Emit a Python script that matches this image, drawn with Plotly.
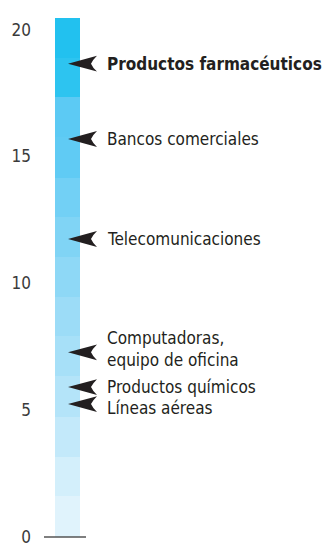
import plotly.graph_objects as go

# Stacked bands of the column (bottom to top) and their fill colours
band_heights = [1.60, 1.57, 1.57, 1.60, 1.57, 1.56, 1.57, 1.56, 1.57, 1.60, 1.57, 1.56, 1.57]
band_colors = ["#e0f3fc", "#d3effb", "#c3e9fa", "#b4e4f9", "#a7e0f8", "#9cdcf7",
               "#8ed8f6", "#80d4f5", "#72d0f5", "#60cbf4", "#5ccaf4", "#2dc4f0", "#22c1ef"]

# Marked industries and their positions on the scale
industries = ["Productos farmacéuticos", "Bancos comerciales", "Telecomunicaciones",
              "Computadoras,<br>equipo de oficina", "Productos químicos", "Líneas aéreas"]
industry_values = [18.66, 15.69, 11.75, 7.28, 5.91, 5.24]
label_bold = [True, False, False, False, False, False]
label_shift = [0, 0, 0, 3, 0, -4]

y_ticks = [0, 5, 10, 15, 20]

FONT = "DejaVu Sans Condensed, Liberation Sans Narrow, Liberation Sans, sans-serif"
BAR_X = 67.5

fig = go.Figure()
for h, c in zip(band_heights, band_colors):
    fig.add_trace(go.Bar(x=[BAR_X], y=[h], width=25, marker=dict(color=c, line=dict(width=0)),
                         showlegend=False, hoverinfo="skip"))

# Arrowheads pointing into the column, built from each value
px_per_unit = 25.55
half = 8 / px_per_unit
shapes = []
for v in industry_values:
    tip = 68
    back = 97
    notch = 91
    path = (f"M {tip},{v} L {back},{v + half} Q {notch + 1.5},{v + half*0.45} {notch},{v} "
            f"Q {notch + 1.5},{v - half*0.45} {back},{v - half} Z")
    shapes.append(dict(type="path", path=path, xref="x", yref="y",
                       fillcolor="#231f20", line=dict(width=0), layer="above"))

# Baseline at zero
shapes.append(dict(type="line", xref="x", yref="y", x0=44, x1=86, y0=0, y1=0,
                   line=dict(color="#555555", width=1.5), layer="above"))

annotations = []
for name, v, b, s in zip(industries, industry_values, label_bold, label_shift):
    annotations.append(dict(x=105, y=v, xref="x", yref="y", xanchor="left", yanchor="middle",
                            text=f"<b>{name}</b>" if b else name, showarrow=False,
                            yshift=s, align="left",
                            font=dict(family=FONT, size=17, color="#231f20")))

fig.update_layout(
    width=330, height=547,
    margin=dict(l=40, r=0, t=0, b=0),
    paper_bgcolor="white", plot_bgcolor="white",
    barmode="stack", bargap=0,
    shapes=shapes, annotations=annotations,
    xaxis=dict(range=[40, 330], visible=False, fixedrange=True),
    yaxis=dict(range=[-0.235, 21.17], tickvals=y_ticks, showgrid=True,
               gridcolor="white", gridwidth=1.5, layer="above traces",
               zeroline=False, showline=False, ticks="",
               ticklabelstandoff=8, ticklabeloverflow="allow",
               tickfont=dict(family=FONT, size=17, color="#3a3a3a")),
)

fig.write_html("out.html")
